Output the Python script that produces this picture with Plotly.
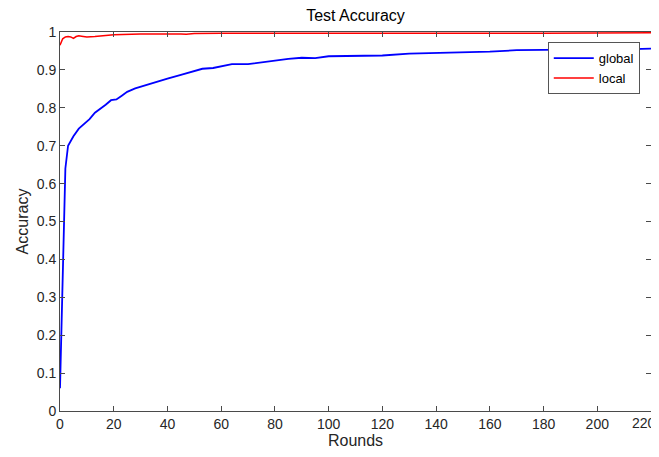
import plotly.graph_objects as go

global_rounds = [0, 1, 2, 3, 5, 7, 9, 11, 13, 15, 17, 19, 21, 23, 25, 28, 31, 35, 40, 45, 50, 53, 57,
                 60, 64, 70, 75, 80, 85, 90, 95, 100, 110, 120, 130, 140, 150, 160, 170, 180,
                 190, 200, 210, 220]
global_acc = [0.06, 0.35, 0.64, 0.70, 0.725, 0.745, 0.758, 0.770, 0.787, 0.797, 0.808, 0.820,
              0.822, 0.832, 0.842, 0.851, 0.858, 0.866, 0.877, 0.887, 0.897, 0.903, 0.905,
              0.910, 0.915, 0.915, 0.920, 0.925, 0.929, 0.932, 0.931, 0.936, 0.937, 0.938,
              0.943, 0.945, 0.946, 0.948, 0.952, 0.953, 0.953, 0.954, 0.954, 0.956]

local_rounds = [0, 1, 2, 3, 4, 5, 6, 7, 8, 10, 13, 16, 20, 30, 40, 45, 47, 50, 60, 100, 120,
                150, 165, 172, 180, 220]
local_acc = [0.965, 0.982, 0.987, 0.988, 0.987, 0.983, 0.988, 0.990, 0.989, 0.987, 0.988, 0.990,
             0.993, 0.995, 0.996, 0.995, 0.994, 0.996, 0.997, 0.997, 0.997, 0.997, 0.996,
             0.995, 0.997, 0.998]

x_ticks = list(range(0, 221, 20))
x_ticktext = [str(v) for v in x_ticks[:-1]] + [""]   # last label drawn as annotation (edge)
last_x_label = str(x_ticks[-1])
y_ticks = [0, 0.1, 0.2, 0.3, 0.4, 0.5, 0.6, 0.7, 0.8, 0.9, 1]

FONT = "Liberation Sans, Arial, Helvetica, sans-serif"
AX = "#4a4a4a"
OFF = 8  # page body margin offset

fig = go.Figure()
fig.add_trace(go.Scatter(x=global_rounds, y=global_acc, mode="lines", name="global",
                         line=dict(color="#0000ff", width=1.8)))
fig.add_trace(go.Scatter(x=local_rounds, y=local_acc, mode="lines", name="local",
                         line=dict(color="#ff0000", width=1.5)))

axis_common = dict(showline=True, linecolor=AX, linewidth=1, mirror="ticks",
                   ticks="inside", ticklen=5, tickcolor=AX, showgrid=False, zeroline=False,
                   automargin=False,
                   tickfont=dict(family=FONT, size=14, color="#262626"))

fig.update_layout(
    width=659 - OFF, height=457 - OFF,
    margin=dict(l=60 - OFF, r=8, t=32 - OFF, b=46, autoexpand=False),
    paper_bgcolor="white", plot_bgcolor="white",
    font=dict(family=FONT, color="#262626"),
    title=dict(text="Test Accuracy", x=0.5, xref="paper", y=1 - (15 - OFF) / (457 - OFF),
               yref="container", xanchor="center", yanchor="middle",
               font=dict(family=FONT, size=16, color="#000")),
    xaxis=dict(range=[0, 220], tickvals=x_ticks, ticktext=x_ticktext,
               title=dict(text="Rounds", standoff=4,
                          font=dict(family=FONT, size=16, color="#262626")), **axis_common),
    yaxis=dict(range=[0, 1], tickvals=y_ticks, title=dict(text="Accuracy", standoff=4,
               font=dict(family=FONT, size=16, color="#262626")), **axis_common),
    legend=dict(x=0.981, y=0.973, xanchor="right", yanchor="top", bgcolor="white",
                bordercolor="#555", borderwidth=1, font=dict(family=FONT, size=13, color="#000"),
                tracegroupgap=0, itemwidth=40),
    showlegend=True,
    annotations=[dict(text=last_x_label, x=1, xref="paper", y=0, yref="paper",
                      xanchor="right", yanchor="middle", xshift=7, yshift=-12,
                      showarrow=False, font=dict(family=FONT, size=14, color="#262626"))],
)

fig.write_html("out.html")
